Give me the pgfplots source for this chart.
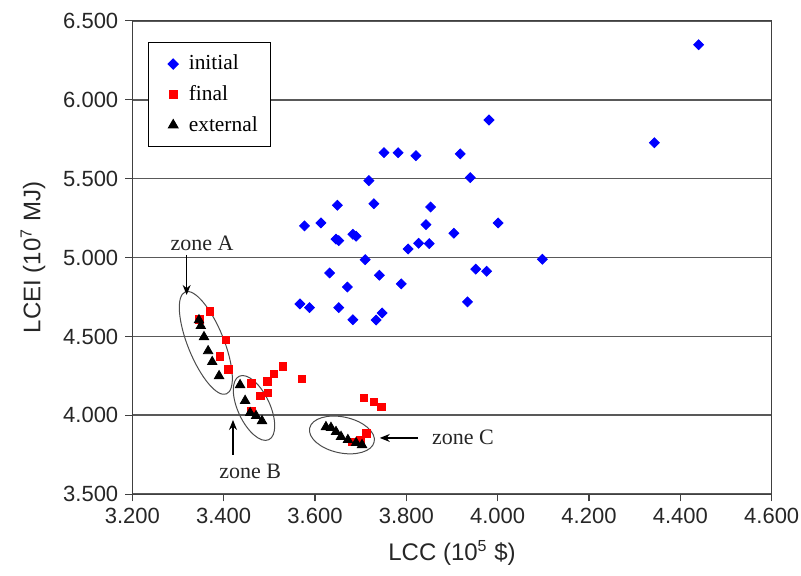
\documentclass[border=0pt]{standalone}
\usepackage{fontspec}
\setmainfont{Liberation Serif}
\setsansfont{Liberation Sans}
\usepackage{pgfplots}
\pgfplotsset{compat=1.18}
\usetikzlibrary{shapes.geometric,arrows.meta}

\begin{document}
\begin{tikzpicture}
\useasboundingbox (-66.15pt,-40.35pt) rectangle (334.35pt,247.15pt);
\begin{axis}[at={(0,0)},anchor=south west,
  scale only axis,width=319.7pt,height=236.8pt,
  xmin=3.2,xmax=4.6,ymin=3.5,ymax=6.5,
  xtick={3.2,3.4,...,4.6},ytick={3.5,4.0,...,6.5},
  ymajorgrids,major grid style={black!65,line width=0.9pt},
  axis line style={black!75,line width=0.7pt},
  tick style={black!75,line width=0.7pt},
  tick align=outside,major tick length=3.5pt,
  xtick pos=bottom,ytick pos=left,
  /pgf/number format/.cd,fixed,fixed zerofill,precision=3,assume math mode=true,
  /pgfplots/.cd,
  tick label style={font=\sffamily\fontsize{11}{13}\selectfont,black!85},
  label style={font=\sffamily\fontsize{12}{14}\selectfont,black!85},
  xlabel={LCC (10\textsuperscript{5} \$)},
  ylabel={LCEI (10\textsuperscript{7} MJ)},
  xlabel style={at={(axis description cs:0.5,-0.124)},anchor=center},
  ylabel style={at={(axis description cs:-0.1553,0.5)},anchor=center},
  legend style={at={(0.0246,0.955)},anchor=north west,draw=black,line width=0.6pt,
    font=\rmfamily\fontsize{10.7}{12}\selectfont,row sep=2.3pt,inner xsep=4.5pt,inner ysep=4.25pt},
  legend cell align=left,
  legend image code/.code={\path (0pt,0pt) (13pt,0pt);\draw[#1] plot coordinates {(7.5pt,0pt)};},
]
\addplot[only marks,mark=square*,mark size=1.75pt,color=blue,mark options={rotate=45,draw=none,fill=blue}] coordinates {
(4.440,6.348) (4.343,5.727) (3.981,5.871) (3.751,5.664) (3.782,5.664)
(3.821,5.645) (3.918,5.656) (3.718,5.487) (3.940,5.506) (3.649,5.331)
(3.729,5.341) (3.853,5.320) (3.577,5.200) (3.613,5.219) (3.843,5.208)
(4.001,5.219) (3.646,5.117) (3.652,5.107) (3.683,5.147) (3.690,5.135)
(3.904,5.154) (3.804,5.054) (3.827,5.090) (3.850,5.088) (3.710,4.986)
(4.098,4.989) (3.952,4.926) (3.976,4.913) (3.632,4.902) (3.741,4.888)
(3.671,4.813) (3.789,4.833) (3.567,4.706) (3.588,4.682) (3.652,4.682)
(3.934,4.719) (3.683,4.606) (3.734,4.604) (3.747,4.649)};
\addlegendentry{initial}
\addplot[only marks,mark=square*,mark size=1.9pt,color=red,mark options={draw=none,fill=red}] coordinates {
(3.370,4.657) (3.347,4.609) (3.405,4.478) (3.392,4.372) (3.410,4.292)
(3.461,4.204) (3.496,4.214) (3.510,4.264) (3.530,4.311) (3.480,4.123)
(3.497,4.142) (3.571,4.231) (3.707,4.111) (3.729,4.085) (3.745,4.054)
(3.461,4.028) (3.712,3.887) (3.699,3.845) (3.681,3.832)};
\addlegendentry{final}
\addplot[only marks,mark=triangle*,mark size=2.7pt,color=black,mark options={draw=none,fill=black}] coordinates {
(3.346,4.604) (3.350,4.567) (3.357,4.497) (3.366,4.408) (3.375,4.339)
(3.390,4.250) (3.436,4.193) (3.447,4.093) (3.458,4.016) (3.471,3.997)
(3.484,3.965) (3.624,3.927) (3.635,3.922) (3.646,3.896) (3.657,3.865)
(3.672,3.845) (3.690,3.826) (3.703,3.813)};
\addlegendentry{external}
% zones
\node[draw=black!70,line width=0.5pt,ellipse,minimum width=55pt,minimum height=18pt,rotate=-68] at (axis cs:3.361,4.459) {};
\node[draw=black!70,line width=0.5pt,ellipse,minimum width=35pt,minimum height=16pt,rotate=-65] at (axis cs:3.4665,4.047) {};
\node[draw=black!70,line width=0.5pt,ellipse,minimum width=33pt,minimum height=18pt,rotate=-12] at (axis cs:3.659,3.876) {};
\draw[-{Stealth[length=5pt,width=4pt]},line width=0.6pt] (axis cs:3.319,5.016) -- (axis cs:3.319,4.763);
\draw[-{Stealth[length=5pt,width=4pt]},line width=0.6pt] (axis cs:3.4205,3.750) -- (axis cs:3.4205,3.971);
\draw[-{Stealth[length=5pt,width=4pt]},line width=0.6pt] (axis cs:3.826,3.857) -- (axis cs:3.742,3.857);
\node[font=\rmfamily\fontsize{11}{13}\selectfont,black!85] at (axis cs:3.353,5.092) {zone A};
\node[font=\rmfamily\fontsize{11}{13}\selectfont,black!85] at (axis cs:3.458,3.642) {zone B};
\node[font=\rmfamily\fontsize{11}{13}\selectfont,black!85] at (axis cs:3.924,3.863) {zone C};
\end{axis}
\end{tikzpicture}
\end{document}
